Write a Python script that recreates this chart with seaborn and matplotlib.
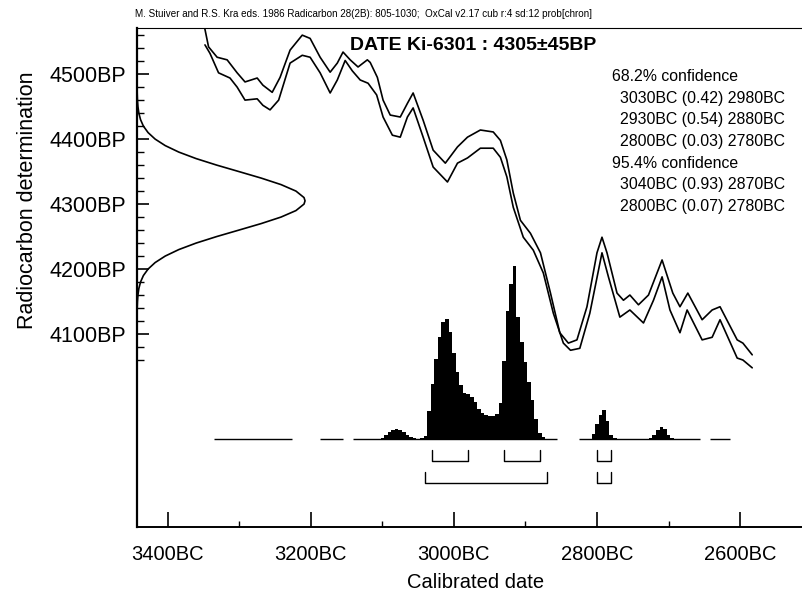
import numpy as np
import pandas as pd
import matplotlib
matplotlib.use("Agg")
import matplotlib.pyplot as plt
import matplotlib.transforms as mtransforms
from matplotlib.ticker import FixedLocator
import seaborn as sns

# calibration curve band (upper / lower 1-sigma lines), BC years vs BP
upper_bc = [3350, 3348, 3343, 3331, 3317, 3303, 3292, 3275, 3267, 3254, 3243, 3229, 3212, 3201,
            3187, 3173, 3163, 3155, 3145, 3134, 3121, 3117, 3107, 3099, 3089, 3075, 3065, 3057,
            3043, 3029, 3012, 2995, 2981, 2963, 2945, 2935, 2926, 2917, 2907, 2893, 2879, 2865,
            2852, 2840, 2828, 2814, 2800, 2793, 2786, 2772, 2763, 2754, 2742, 2728, 2709, 2694,
            2684, 2673, 2653, 2639, 2628, 2604, 2596, 2583]
upper_bp = [4580, 4569, 4542, 4526, 4522, 4502, 4488, 4494, 4483, 4472, 4495, 4537, 4560, 4555,
            4526, 4503, 4517, 4534, 4522, 4511, 4522, 4518, 4495, 4460, 4437, 4434, 4455, 4471,
            4429, 4383, 4363, 4388, 4403, 4414, 4411, 4398, 4368, 4317, 4275, 4255, 4225, 4163,
            4102, 4086, 4091, 4142, 4225, 4249, 4225, 4163, 4152, 4160, 4145, 4160, 4214, 4163,
            4142, 4163, 4122, 4137, 4142, 4091, 4086, 4068]
lower_bc = [3348, 3341, 3329, 3313, 3303, 3292, 3275, 3267, 3257, 3245, 3229, 3212, 3201, 3187,
            3173, 3163, 3152, 3142, 3131, 3120, 3108, 3099, 3086, 3075, 3065, 3057, 3043, 3029,
            3009, 2995, 2981, 2963, 2945, 2935, 2926, 2917, 2903, 2889, 2875, 2861, 2847, 2837,
            2824, 2810, 2793, 2784, 2768, 2754, 2735, 2721, 2709, 2698, 2684, 2674, 2653, 2639,
            2628, 2604, 2596, 2583]
lower_bp = [4545, 4532, 4502, 4494, 4480, 4460, 4462, 4452, 4445, 4460, 4517, 4529, 4526, 4502,
            4471, 4491, 4521, 4505, 4491, 4486, 4468, 4434, 4406, 4403, 4434, 4448, 4403, 4357,
            4334, 4363, 4371, 4386, 4386, 4372, 4342, 4295, 4249, 4229, 4194, 4132, 4086, 4075,
            4078, 4132, 4225, 4188, 4126, 4137, 4117, 4152, 4188, 4137, 4102, 4137, 4091, 4095,
            4122, 4063, 4060, 4048]

# radiocarbon determination 4305 +/- 45 BP, relative density
date_bp = [4480, 4470, 4460, 4450, 4440, 4430, 4420, 4410, 4400, 4390, 4380, 4370, 4360, 4350,
           4340, 4330, 4320, 4310, 4305, 4300, 4290, 4280, 4270, 4260, 4250, 4240, 4230, 4220,
           4210, 4200, 4190, 4180, 4170, 4160, 4150, 4140, 4130]
date_dens = [0.0005, 0.0012, 0.0027, 0.0056, 0.011, 0.021, 0.038, 0.066, 0.108, 0.168, 0.249,
             0.352, 0.474, 0.607, 0.739, 0.857, 0.946, 0.994, 1.0, 0.994, 0.946, 0.857, 0.739,
             0.607, 0.474, 0.352, 0.249, 0.168, 0.108, 0.066, 0.038, 0.021, 0.011, 0.0056,
             0.0027, 0.0012, 0.0005]

# calibrated probability (5-year bins, BC)
hist_bc = [3100, 3095, 3090, 3085, 3080, 3075, 3070, 3065, 3060, 3055, 3050, 3045, 3040, 3035,
           3030, 3025, 3020, 3015, 3010, 3005, 3000, 2995, 2990, 2985, 2980, 2975, 2970, 2965,
           2960, 2955, 2950, 2945, 2940, 2935, 2930, 2925, 2920, 2915, 2910, 2905, 2900, 2895,
           2890, 2885, 2880, 2875, 2870, 2865, 2860,
           2805, 2800, 2795, 2790, 2785, 2780, 2775,
           2725, 2720, 2715, 2710, 2705, 2700, 2695]
hist_p = [1, 4, 7, 9, 10, 9, 7, 4, 2, 1, 0.5, 1, 3, 28,
          55, 80, 102, 117, 120, 107, 86, 67, 54, 46, 45, 42, 37, 30,
          26, 24, 23, 23, 25, 36, 78, 128, 155, 173, 122, 97, 77, 57,
          39, 20, 6, 2, 0.5, 0.3, 0.2,
          5, 15, 24, 29, 18, 4, 1,
          1, 4, 9, 12, 10, 4, 1]
# where the probability is non-zero (thin baseline)
support_bc = [(3335, 3226), (3187, 3155), (3141, 2856), (2825, 2656), (2642, 2614)]

# confidence ranges (from, probability, to)
ranges68 = [(3030, 0.42, 2980), (2930, 0.54, 2880), (2800, 0.03, 2780)]
ranges95 = [(3040, 0.93, 2870), (2800, 0.07, 2780)]

xtick_years = [3400, 3200, 3000, 2800, 2600]
xminor_years = [3300, 3100, 2900, 2700]
ytick_bp = [4100, 4200, 4300, 4400, 4500]

sns.set_style("ticks", {"axes.edgecolor": "black", "xtick.color": "black", "ytick.color": "black",
                        "text.color": "black", "axes.labelcolor": "black"})
plt.rcParams["font.family"] = ["Liberation Sans", "DejaVu Sans"]

fig = plt.figure(figsize=(8.03, 5.95), dpi=100)
ax = fig.add_axes([137 / 803, 68 / 595, 666 / 803, 499 / 595])

sns.lineplot(x=upper_bc, y=upper_bp, ax=ax, color="black", lw=1.2, sort=False)
sns.lineplot(x=lower_bc, y=lower_bp, ax=ax, color="black", lw=1.2, sort=False)

# measured date as a curve standing on the y axis
trans = mtransforms.blended_transform_factory(ax.transAxes, ax.transData)
ax.plot(np.array(date_dens) * 0.2523, date_bp, color="black", lw=1.2, transform=trans)

# confidence brackets
for a, p, b in ranges68:
    ax.plot([a, a, b, b], [3921, 3905, 3905, 3921], color="black", lw=1.0)
for a, p, b in ranges95:
    ax.plot([a, a, b, b], [3888, 3871, 3871, 3888], color="black", lw=1.0)

ax.set_xlim(3443, 2512)
ax.set_ylim(3803, 4571)

# probability histogram in its own band
hist_df = pd.DataFrame({"bc": hist_bc, "p": hist_p})
hax = ax.inset_axes([0, 88 / 499, 1, 173 / 499])
sns.histplot(data=hist_df, x="bc", weights="p", binwidth=5, binrange=(2687.5, 3102.5),
             element="step", fill=True, color="black", alpha=1, lw=0, ax=hax)
for a, b in support_bc:
    hax.hlines(0, a, b, color="black", lw=1.0, clip_on=False)
hax.set_xlim(3443, 2512)
hax.set_ylim(0, max(hist_p))
hax.axis("off")

ax.xaxis.set_major_locator(FixedLocator(xtick_years))
ax.xaxis.set_minor_locator(FixedLocator(xminor_years))
ax.set_xticklabels([f"{y}BC" for y in xtick_years])
ax.yaxis.set_major_locator(FixedLocator(ytick_bp))
ax.yaxis.set_minor_locator(FixedLocator(list(range(4060, 4580, 20))))
ax.set_yticklabels([f"{y}BP" for y in ytick_bp])

ax.tick_params(axis="x", which="major", direction="in", length=11, width=1.2, pad=13, labelsize=14.5)
ax.tick_params(axis="x", which="minor", direction="in", length=4.5, width=1.0)
ax.tick_params(axis="y", which="major", direction="in", length=8.5, width=1.2, pad=8, labelsize=15.5)
ax.tick_params(axis="y", which="minor", direction="in", length=5, width=1.0)

ax.spines["right"].set_visible(False)
ax.spines["top"].set_linewidth(0.8)
ax.spines["left"].set_linewidth(1.6)
ax.spines["bottom"].set_linewidth(1.4)

ax.set_xlabel("")
ax.set_ylabel("")
fig.text(476 / 803, 1 - 583 / 595, "Calibrated date", fontsize=14.5, ha="center", va="center")
fig.text(28 / 803, 1 - 200 / 595, "Radiocarbon determination", fontsize=15.5,
         rotation=90, ha="center", va="center")

fig.text(135 / 803, 1 - 14 / 595,
         "M. Stuiver and R.S. Kra eds. 1986 Radicarbon 28(2B): 805-1030;  OxCal v2.17 cub r:4 sd:12 prob[chron]",
         fontsize=7.1, va="center", ha="left")
fig.text(350 / 803, 1 - 46 / 595, "DATE Ki-6301 : 4305\u00b145BP", fontsize=14,
         fontweight="bold", va="center", ha="left")

lines = [("68.2% confidence", 612)]
lines += [(f"{a}BC ({p:.2f}) {b}BC", 620) for a, p, b in ranges68]
lines += [("95.4% confidence", 612)]
lines += [(f"{a}BC ({p:.2f}) {b}BC", 620) for a, p, b in ranges95]
for i, (txt, xpx) in enumerate(lines):
    fig.text(xpx / 803, 1 - (76.7 + 21.6 * i) / 595, txt, fontsize=11.4, va="center", ha="left")

fig.savefig("out.png", dpi=100)
